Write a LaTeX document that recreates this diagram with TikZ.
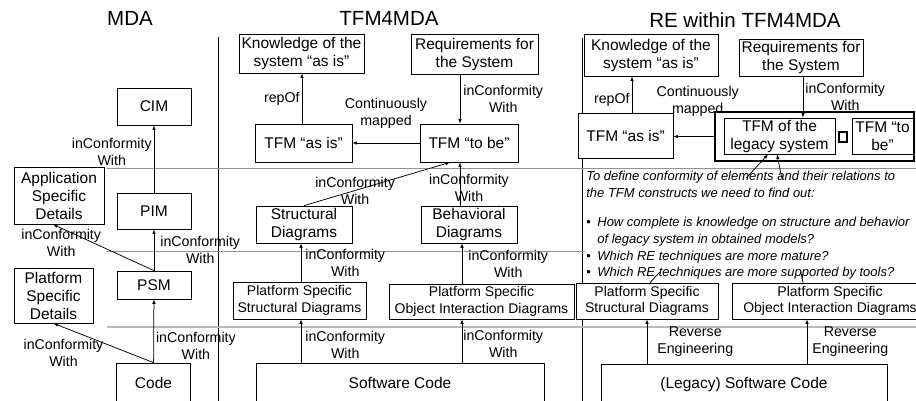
\documentclass[tikz,border=0pt]{standalone}
\usepackage{fontspec}
\setmainfont{Liberation Sans}
\usetikzlibrary{arrows.meta}

\tikzset{
  wh/.style 2 args={minimum width=#1pt, minimum height=#2pt},
  box/.style={draw, fill=white, align=center, inner sep=0pt, font=\fontsize{15.5}{18}\selectfont},
  pbox/.style={box, font=\fontsize{14}{16.5}\selectfont},
  lbl/.style={align=center, inner sep=1pt, font=\fontsize{14.2}{17}\selectfont},
  ttl/.style={font=\fontsize{20.5}{24}\selectfont},
}

\begin{document}
\begin{tikzpicture}[x=1pt, y=-1pt, line width=0.75pt, >={Latex[length=4.5pt,width=3.5pt]}]
  \useasboundingbox (0,0) rectangle (916,401);

  % column separators and level lines
  \draw (218,37) -- (218,401);
  \draw (582,38) -- (582,401);
  \draw[gray!85] (107,168) -- (916,168);
  \draw[gray!85] (107,251) -- (916,251);
  \draw[gray!55, line width=1.8pt] (107,327) -- (916,327);

  % MDA
  \node[ttl] (mda) at (130,18) {MDA};
  \node[box, wh={74}{37}] (cim) at (154,106.5) {CIM};
  \node[box, wh={74}{36}] (pim) at (154,211) {PIM};
  \node[box, wh={74}{28}] (psm) at (154,285) {PSM};
  \node[box, wh={74}{40}] (code) at (153.5,383) {Code};
  \node[box, wh={90}{57}] (asd) at (59,195.5) {Application\\Specific\\Details};
  \node[box, wh={79}{55}] (psd) at (53.5,295.5) {Platform\\Specific\\Details};

  \draw[->] (pim) -- (cim) node[lbl, pos=0.6, left=1pt] {inConformity\\With};
  \draw[->] (psm) -- (pim) node[lbl, midway, right=5pt] {inConformity\\With};
  \draw[->] (psm.north) -- ([xshift=-6pt]asd.south)
    node[lbl, pos=0.8, xshift=-12pt, yshift=-9.6pt] {inConformity\\With};
  \draw[->] (code) -- (psm) node[lbl, pos=0.27, right=1pt] {inConformity\\With};
  \draw[->] (code.north) -- (psd.south)
    node[lbl, pos=0.6, xshift=-30pt, yshift=-14pt] {inConformity\\With};

  % TFM4MDA
  \node[ttl] (tfm) at (389,18) {TFM4MDA};
  \node[box, wh={125}{39}] (knowA) at (301.5,53.5) {Knowledge of the\\system “as is”};
  \node[box, wh={127}{40}] (reqA) at (474.5,54) {Requirements for\\the System};
  \node[box, wh={97}{38}] (asisA) at (303.5,143) {TFM “as is”};
  \node[box, wh={98}{38}] (tobeA) at (469,143) {TFM “to be”};
  \node[box, wh={96}{37}] (structA) at (304,224.5) {Structural\\Diagrams};
  \node[box, wh={96}{37}] (behavA) at (469,224.5) {Behavioral\\Diagrams};
  \node[pbox, wh={133}{37}] (pssdA) at (299.5,300.5) {Platform Specific\\Structural Diagrams};
  \node[pbox, wh={185}{35}] (psoidA) at (481.5,301.5) {Platform Specific\\Object Interaction Diagrams};
  \node[box, wh={288}{40}] (codeA) at (400,383) {Software Code};

  \draw[->] ([xshift=-1.5pt]asisA.north) -- ([xshift=-1.5pt]asisA.north |- knowA.south)
    node[lbl, midway, left=1pt] {repOf};
  \draw[->] (tobeA) -- (asisA) node[lbl, midway, above=13pt] {Continuously\\mapped};
  \draw[->] ([xshift=-14.5pt]reqA.south) -- ([xshift=-14.5pt]reqA.south |- tobeA.north)
    node[lbl, midway, right=2pt] {inConformity\\With};
  \draw[->] (structA.north) -- ([xshift=-19pt]tobeA.south)
    node[lbl, pos=0.35] {inConformity\\With};
  \draw[->] ([xshift=-9pt]behavA.north) -- ([xshift=-9pt]behavA.north |- tobeA.south)
    node[lbl, pos=0.4, xshift=9pt] {inConformity\\With};
  \draw[->] ([xshift=1.5pt]pssdA.north) -- ([xshift=1.5pt]pssdA.north |- structA.south)
    node[lbl, midway, right=3pt] {inConformity\\With};
  \draw[->] ([xshift=-19.5pt]psoidA.north) -- ([xshift=-19.5pt]psoidA.north |- behavA.south)
    node[lbl, midway, right=5pt] {inConformity\\With};
  \draw[->] ([xshift=-99pt]codeA.north) -- ([xshift=-99pt]codeA.north |- pssdA.south)
    node[lbl, pos=0.4, right=3pt] {inConformity\\With};
  \draw[->] ([xshift=62pt]codeA.north) -- ([xshift=62pt]codeA.north |- psoidA.south)
    node[lbl, pos=0.44, right=0pt] {inConformity\\With};

  % RE within TFM4MDA
  \node[ttl] (re) at (745,20) {RE within TFM4MDA};
  \node[box, wh={134}{42}] (knowB) at (651,55) {Knowledge of the\\system “as is”};
  \node[box, wh={124}{37}] (reqB) at (801,57.5) {Requirements for\\the System};
  \node[box, wh={95}{45}] (asisB) at (625.5,135.5) {TFM “as is”};
  \node[draw, fill=white, line width=1.8pt, wh={199}{49}] (tfmB) at (814.5,136.5) {};
  \node[box, wh={111}{36}] (legacyB) at (779.5,136) {TFM of the\\legacy system};
  \node[draw, line width=1.3pt, inner sep=0pt, wh={8}{10}] (sq) at (843,137) {};
  \node[box, wh={61}{36}] (tobeB) at (882.5,136) {TFM “to\\be”};
  \node[pbox, wh={142}{36}] (pssdB) at (647,301) {Platform Specific\\Structural Diagrams};
  \node[pbox, wh={196}{36}] (psoidB) at (830,301) {Platform Specific\\Object Interaction Diagrams};
  \node[box, wh={286}{40}] (codeB) at (744,384) {(Legacy) Software Code};

  \draw[->] (tfmB.west) -- (tfmB.west -| asisB.east)
    node[lbl, midway, above=19pt, xshift=4pt] {Continuously\\mapped};
  \draw[->] ([xshift=6.5pt]asisB.north) -- ([xshift=6.5pt]asisB.north |- knowB.south)
    node[lbl, pos=0.35, left=1pt] {repOf};
  \draw[->] ([xshift=2pt]reqB.south) -- ([xshift=2pt]reqB.south |- legacyB.north)
    node[lbl, midway, right=1pt] {inConformity\\With};
  \draw[->] ([xshift=3pt]pssdB.north) -- ([xshift=-11.5pt]legacyB.south);
  \draw[->] ([xshift=-27pt]psoidB.north) -- ([xshift=-2.5pt]legacyB.south);
  \draw[->] ([xshift=-97pt]codeB.north) -- ([xshift=-97pt]codeB.north |- pssdB.south)
    node[lbl, midway, right=9pt] {Reverse\\Engineering};
  \draw[->] ([xshift=63pt]codeB.north) -- ([xshift=63pt]codeB.north |- psoidB.south)
    node[lbl, midway, right=4pt] {Reverse\\Engineering};

  % questions
  \fill[white] (585,178) rectangle (916,272);
  \node[anchor=north west, inner sep=0pt, align=left,
        font=\fontsize{13}{16.6}\selectfont\itshape] (notes) at (586,171) {%
    To define conformity of elements and their relations to\\
    the TFM constructs we need to find out:\\[13pt]
    \makebox[11pt][l]{\upshape\textbullet}How complete is knowledge on structure and behavior\\
    \hspace*{11pt}of legacy system in obtained models?\\
    \makebox[11pt][l]{\upshape\textbullet}Which RE techniques are more mature?\\
    \makebox[11pt][l]{\upshape\textbullet}Which RE techniques are more supported by tools?};
\end{tikzpicture}
\end{document}
